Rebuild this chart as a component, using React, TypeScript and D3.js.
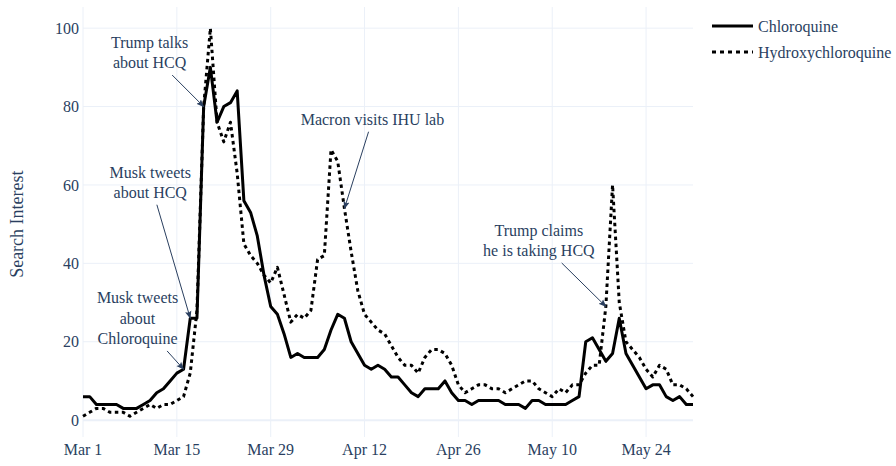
import React, { useEffect, useRef } from 'react';
import * as d3 from 'd3';

// daily Google Trends search interest, Mar 1 - May 31 2020
const startDate = new Date(2020, 2, 1);

const chloroquine = [
  6, 6, 4, 4, 4, 4, 3, 3, 3, 4,
  5, 7, 8, 10, 12, 13, 26, 26, 80, 90,
  76, 80, 81, 84, 56, 53, 47, 37, 29, 27,
  22, 16, 17, 16, 16, 16, 18, 23, 27, 26,
  20, 17, 14, 13, 14, 13, 11, 11, 9, 7,
  6, 8, 8, 8, 10, 7, 5, 5, 4, 5,
  5, 5, 5, 4, 4, 4, 3, 5, 5, 4,
  4, 4, 4, 5, 6, 20, 21, 18, 15, 17,
  26, 17, 14, 11, 8, 9, 9, 6, 5, 6,
  4, 4,
];

const hydroxychloroquine = [
  1, 2, 3, 3, 2, 2, 2, 1, 2, 3,
  4, 3, 4, 4, 5, 6, 12, 28, 80, 100,
  76, 71, 76, 63, 45, 42, 40, 37, 35, 39,
  32, 25, 27, 26, 28, 41, 42, 69, 66, 54,
  43, 33, 27, 25, 23, 22, 19, 16, 14, 14,
  12, 16, 18, 18, 17, 14, 9, 7, 8, 9,
  9, 8, 8, 7, 8, 9, 10, 10, 8, 7,
  6, 8, 7, 9, 9, 12, 14, 14, 29, 60,
  30, 20, 18, 16, 13, 11, 14, 13, 9, 9,
  8, 6,
];

const seriesNames = ['Chloroquine', 'Hydroxychloroquine'];
const xTickLabels = ['Mar 1', 'Mar 15', 'Mar 29', 'Apr 12', 'Apr 26', 'May 10', 'May 24'];
const yTicks = [0, 20, 40, 60, 80, 100];

// annotations: day index, which series the arrow points at, text lines, text offset
const annotations = [
  { day: 18, series: 0, lines: ['Trump talks', 'about HCQ'], ax: -54, ay: -54 },
  { day: 16, series: 0, lines: ['Musk tweets', 'about HCQ'], ax: -40, ay: -136 },
  { day: 15, series: 0, lines: ['Musk tweets', 'about', 'Chloroquine'], ax: -46, ay: -51 },
  { day: 39, series: 1, lines: ['Macron visits IHU lab'], ax: 28, ay: -89 },
  { day: 78, series: 1, lines: ['Trump claims', 'he is taking HCQ'], ax: -67, ay: -66 },
];

const FONT = "'Liberation Serif', 'DejaVu Serif', serif";
const TEXT = '#2a3f5f';
const GRID = '#ebf0f8';

const App: React.FC = () => {
  const svgRef = useRef<SVGSVGElement>(null);

  useEffect(() => {
    if (!svgRef.current) return;
    const svg = d3.select(svgRef.current);
    svg.selectAll('*').remove();

    const dates = chloroquine.map((_, i) => d3.timeDay.offset(startDate, i));
    const data = [chloroquine, hydroxychloroquine];

    const left = 83, right = 693, top = 7, bottom = 437;

    const x = d3.scaleTime()
      .domain([dates[0], dates[dates.length - 1]])
      .range([left, right]);
    const y = d3.scaleLinear().domain([-4.3, 105.4]).range([bottom, top]);

    const tickDates = xTickLabels.map((_, i) => d3.timeDay.offset(startDate, i * 14));

    // grid
    const grid = svg.append('g');
    grid.selectAll('line.v')
      .data(tickDates)
      .join('line')
      .attr('x1', d => x(d)).attr('x2', d => x(d))
      .attr('y1', top).attr('y2', bottom)
      .attr('stroke', GRID).attr('stroke-width', 1);
    grid.selectAll('line.h')
      .data(yTicks)
      .join('line')
      .attr('x1', left).attr('x2', right)
      .attr('y1', d => y(d)).attr('y2', d => y(d))
      .attr('stroke', GRID)
      .attr('stroke-width', d => (d === 0 ? 2 : 1));

    // tick labels
    svg.append('g').selectAll('text')
      .data(yTicks)
      .join('text')
      .attr('x', left - 4)
      .attr('y', d => y(d))
      .attr('dy', '0.35em')
      .attr('text-anchor', 'end')
      .style('font-family', FONT).style('font-size', '16px').attr('fill', TEXT)
      .text(d => d);

    svg.append('g').selectAll('text')
      .data(tickDates)
      .join('text')
      .attr('x', d => x(d))
      .attr('y', 455)
      .attr('text-anchor', 'middle')
      .style('font-family', FONT).style('font-size', '16px').attr('fill', TEXT)
      .text((_, i) => xTickLabels[i]);

    svg.append('text')
      .attr('transform', `translate(23,${y(50)}) rotate(-90)`)
      .attr('text-anchor', 'middle')
      .style('font-family', FONT).style('font-size', '18px').attr('fill', TEXT)
      .text('Search Interest');

    // lines
    const line = d3.line<number>()
      .x((_, i) => x(dates[i]))
      .y(d => y(d));

    const dashes = [null, '3.5,3.5'];
    svg.append('g').selectAll('path')
      .data(data)
      .join('path')
      .attr('d', d => line(d))
      .attr('fill', 'none')
      .attr('stroke', '#000')
      .attr('stroke-width', 3)
      .attr('stroke-linejoin', 'round')
      .attr('stroke-dasharray', (_, i) => dashes[i]);

    // arrow marker
    svg.append('defs').append('marker')
      .attr('id', 'ann-arrow')
      .attr('viewBox', '0 -5 10 10')
      .attr('refX', 9).attr('refY', 0)
      .attr('markerWidth', 8).attr('markerHeight', 8)
      .attr('markerUnits', 'userSpaceOnUse')
      .attr('orient', 'auto')
      .append('path')
      .attr('d', 'M0,-4L10,0L0,4L2,0Z')
      .attr('fill', TEXT);

    // annotations
    const lineH = 20.5;
    annotations.forEach(a => {
      const tx = x(dates[a.day]);
      const ty = y(data[a.series][a.day]);
      const cx = tx + a.ax;
      const cy = ty + a.ay;
      const g = svg.append('g');
      const txt = g.append('text')
        .attr('text-anchor', 'middle')
        .style('font-family', FONT).style('font-size', '16px').attr('fill', TEXT);
      const n = a.lines.length;
      a.lines.forEach((l, i) => {
        txt.append('tspan')
          .attr('x', cx)
          .attr('y', cy + (i - (n - 1) / 2) * lineH)
          .attr('dy', '0.35em')
          .text(l);
      });
      const bb = (txt.node() as SVGTextElement).getBBox();
      const hw = bb.width / 2 + 2;
      const hh = (n * lineH) / 2 + 2;
      const dx = tx - cx, dy = ty - cy;
      const s = Math.min(hw / Math.abs(dx || 1e-6), hh / Math.abs(dy || 1e-6));
      g.append('line')
        .attr('x1', cx + dx * s).attr('y1', cy + dy * s)
        .attr('x2', tx).attr('y2', ty)
        .attr('stroke', TEXT).attr('stroke-width', 1)
        .attr('marker-end', 'url(#ann-arrow)');
    });

    // legend
    const legend = svg.append('g').attr('transform', 'translate(712,26)');
    const legendDash = [null, '4,4'];
    seriesNames.forEach((name, i) => {
      const row = legend.append('g').attr('transform', `translate(0,${i * 26})`);
      row.append('line')
        .attr('x1', 0).attr('x2', 41).attr('y1', 0).attr('y2', 0)
        .attr('stroke', '#000').attr('stroke-width', 3)
        .attr('stroke-dasharray', legendDash[i]);
      row.append('text')
        .attr('x', 46).attr('y', 0).attr('dy', '0.35em')
        .style('font-family', FONT).style('font-size', '16px').attr('fill', TEXT)
        .text(name);
    });
  }, []);

  return (
    <svg
      ref={svgRef}
      width={896}
      height={466}
      style={{ position: 'absolute', left: 0, top: 0, background: '#fff' }}
    />
  );
};

export default App;
